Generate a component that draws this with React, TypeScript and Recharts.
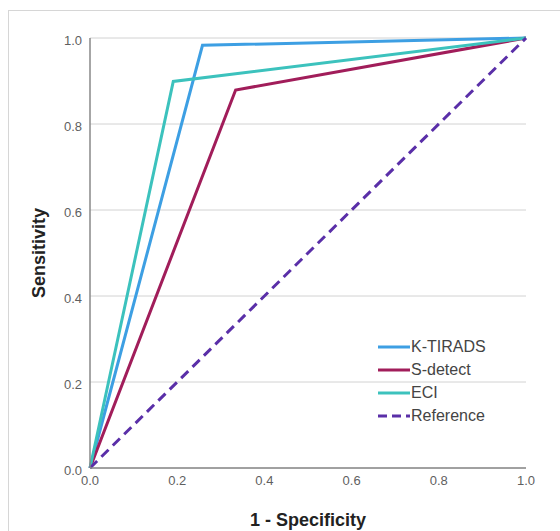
import React from "react";
import {
  LineChart,
  Line,
  XAxis,
  YAxis,
  CartesianGrid,
  Legend,
  Label,
} from "recharts";

const axisTicks = [0, 0.2, 0.4, 0.6, 0.8, 1.0];

const seriesNames = ["K-TIRADS", "S-detect", "ECI", "Reference"];
const seriesColors = ["#3d9fe3", "#a11d5a", "#3cc2bd", "#5a2fa8"];

// 1 - specificity / sensitivity per curve
const kTiradsFpr = [0, 0.258, 1];
const kTiradsTpr = [0, 0.983, 1];
const sDetectFpr = [0, 0.334, 1];
const sDetectTpr = [0, 0.879, 1];
const eciFpr = [0, 0.191, 1];
const eciTpr = [0, 0.899, 1];
const refFpr = [0, 1];
const refTpr = [0, 1];

const toPoints = (fpr: number[], tpr: number[]) =>
  fpr.map((x, i) => ({ x, y: tpr[i] }));

const curves = [
  toPoints(kTiradsFpr, kTiradsTpr),
  toPoints(sDetectFpr, sDetectTpr),
  toPoints(eciFpr, eciTpr),
  toPoints(refFpr, refTpr),
];

const FONT = '"Liberation Sans", Arial, sans-serif';

// legend keeps the series order (recharts sorts its payload by name)
const LegendBox = () => (
  <div style={{ fontFamily: FONT }}>
    {seriesNames.map((name, i) => (
      <div
        key={name}
        style={{ display: "flex", alignItems: "center", height: 23 }}
      >
        <svg width={32} height={6} style={{ display: "block" }}>
          <line
            x1={0}
            y1={3}
            x2={32}
            y2={3}
            stroke={seriesColors[i]}
            strokeWidth={3}
            strokeDasharray={name === "Reference" ? "9 5" : undefined}
          />
        </svg>
        <span style={{ fontSize: 16, color: "#444", marginLeft: 1 }}>
          {name}
        </span>
      </div>
    ))}
  </div>
);

const App: React.FC = () => {
  return (
    <div
      style={{
        position: "absolute",
        left: 0,
        top: 0,
        width: 560,
        height: 531,
        background: "#fff",
        overflow: "hidden",
      }}
    >
      <div
        style={{
          position: "absolute",
          left: 8,
          top: 10,
          right: -10,
          bottom: -10,
          borderTop: "1px solid #d6d6d6",
          borderLeft: "1px solid #d6d6d6",
        }}
      />
      <LineChart
        width={560}
        height={531}
        margin={{ top: 38, right: 34, bottom: 0, left: 0 }}
        style={{ fontFamily: FONT }}
      >
        <CartesianGrid vertical={false} stroke="#d2d2d2" strokeWidth={1} />
        <XAxis
          type="number"
          dataKey="x"
          domain={[0, 1]}
          ticks={axisTicks}
          tickFormatter={(v: number) => v.toFixed(1)}
          tick={{ fontSize: 13, fill: "#5f5f5f" }}
          tickLine={false}
          axisLine={{ stroke: "#888", strokeWidth: 1.5 }}
          height={63}
        >
          <Label
            value="1 - Specificity"
            position="insideBottom"
            offset={5}
            style={{ fontSize: 18, fontWeight: 700, fill: "#222" }}
          />
        </XAxis>
        <YAxis
          type="number"
          dataKey="y"
          domain={[0, 1]}
          ticks={axisTicks}
          tickFormatter={(v: number) => v.toFixed(1)}
          tick={{ fontSize: 13, fill: "#5f5f5f", dy: 2 }}
          tickLine={false}
          axisLine={{ stroke: "#888", strokeWidth: 1.5 }}
          width={90}
        >
          <Label
            value="Sensitivity"
            angle={-90}
            position="center"
            dx={-6}
            style={{ fontSize: 18, fontWeight: 700, fill: "#222", textAnchor: "middle" }}
          />
        </YAxis>
        <Legend
          layout="vertical"
          align="center"
          verticalAlign="middle"
          content={<LegendBox />}
          wrapperStyle={{ left: 378, top: 335, width: 130 }}
        />
        {curves.map((pts, i) => (
          <Line
            key={seriesNames[i]}
            data={pts}
            dataKey="y"
            name={seriesNames[i]}
            type="linear"
            stroke={seriesColors[i]}
            strokeWidth={3}
            strokeDasharray={seriesNames[i] === "Reference" ? "10 6" : undefined}
            dot={false}
            activeDot={false}
            isAnimationActive={false}
          />
        ))}
      </LineChart>
    </div>
  );
};

export default App;
